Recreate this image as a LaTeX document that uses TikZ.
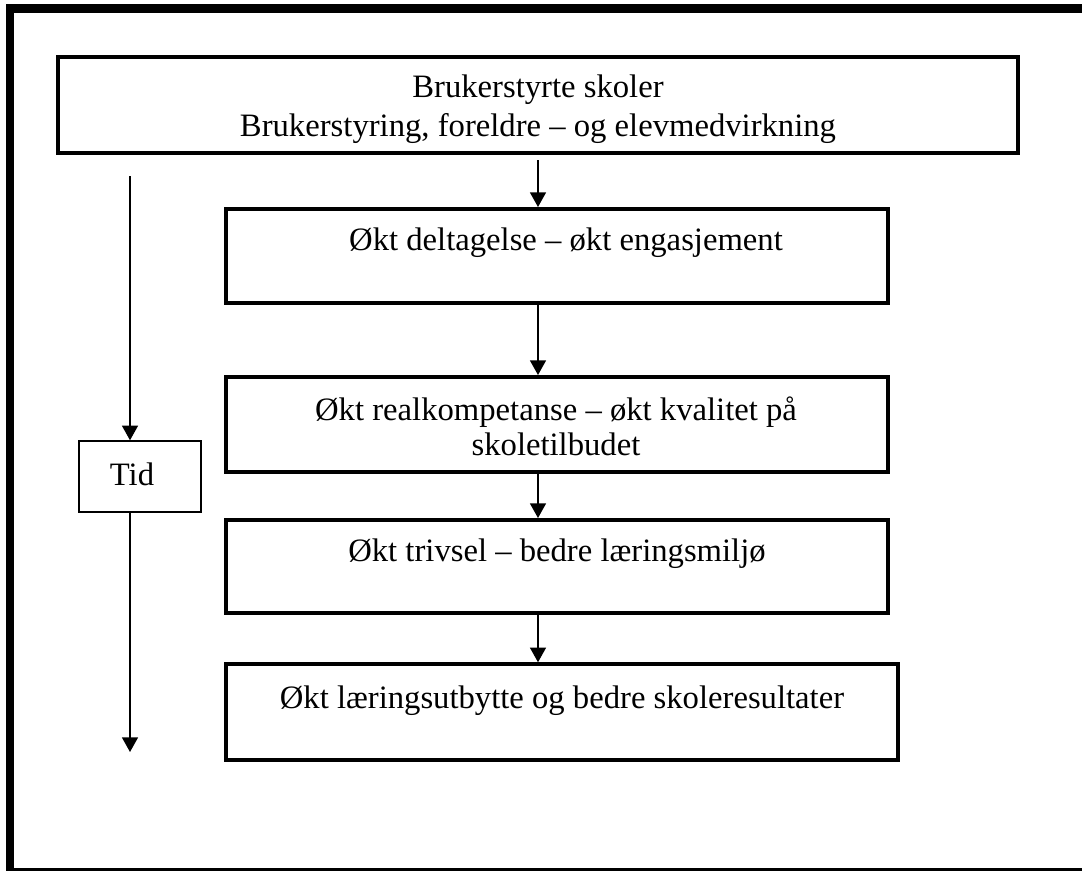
\documentclass[tikz,border=0pt]{standalone}
\usepackage{fontspec}
\setmainfont{Liberation Serif}
\usetikzlibrary{arrows.meta}
\begin{document}
\begin{tikzpicture}[x=0.75pt,y=-0.75pt,
  bigbox/.style={draw=black,line width=3pt,inner sep=0pt,minimum width=#1*0.75pt},
  tidbox/.style={draw=black,line width=1.1pt,inner sep=0pt,minimum width=122*0.75pt,minimum height=71*0.75pt},
  lbl/.style={anchor=base,inner sep=0pt,font=\fontsize{24.5}{29}\selectfont},
  arr/.style={line width=1.1pt,-{Triangle[width=12pt,length=11pt]}}]
\useasboundingbox (0,0) rectangle (1082,871);
% outer frame (cut off at the right)
\draw[line width=6.5pt] (1082,8.5) -- (10,8.5) -- (10,871);
\draw[line width=2pt] (10,869.5) -- (1082,869.5);
% boxes
\node[bigbox=960,minimum height=96*0.75pt] (b1) at (538,105) {};
\node[bigbox=662,minimum height=94*0.75pt] (b2) at (557,256) {};
\node[bigbox=662,minimum height=95*0.75pt] (b3) at (557,424.5) {};
\node[bigbox=662,minimum height=93*0.75pt] (b4) at (557,566.5) {};
\node[bigbox=672,minimum height=95.5*0.75pt] (b5) at (562,712) {};
\node[tidbox] (tid) at (140,476.5) {};
% texts
\node[lbl] (t1a) at (538,97) {Brukerstyrte skoler};
\node[lbl] (t1b) at (538,136) {Brukerstyring, foreldre – og elevmedvirkning};
\node[lbl] (t2) at (566,250) {Økt deltagelse – økt engasjement};
\node[lbl] (t3a) at (556,420) {Økt realkompetanse – økt kvalitet på};
\node[lbl] (t3b) at (556,455) {skoletilbudet};
\node[lbl] (t4) at (557,561) {Økt trivsel – bedre læringsmiljø};
\node[lbl] (t5) at (562,708) {Økt læringsutbytte og bedre skoleresultater};
\node[lbl] (t6) at (132,485) {Tid};
% vertical arrows
\draw[arr] (b1.south) ++(0,5) -- (b1.south |- b2.north);
\draw[arr] (b1.south |- b2.south) -- (b1.south |- b3.north);
\draw[arr] (b1.south |- b3.south) -- (b1.south |- b4.north);
\draw[arr] (b1.south |- b4.south) -- (b1.south |- b5.north);
% time arrow
\coordinate (ts) at (130,176);
\coordinate (te) at (130,752);
\draw[arr] (ts) -- (ts |- tid.north);
\draw[arr] (ts |- tid.south) -- (te);
\end{tikzpicture}
\end{document}
